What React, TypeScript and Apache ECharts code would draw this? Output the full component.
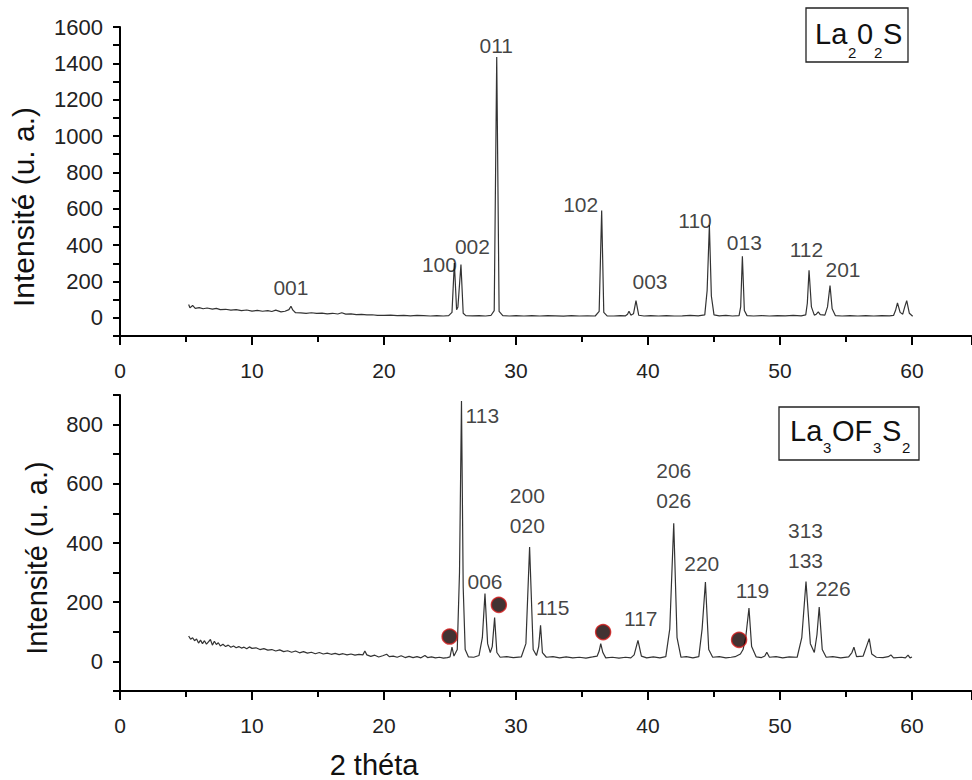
import React, { useEffect, useRef } from "react";
import * as echarts from "echarts";

// ---- La2O2S pattern: [2θ, intensity]
const topPattern: number[][] = [
  [5.2, 73], [5.3, 55], [5.5, 68], [5.7, 52], [6.0, 56], [6.3, 50], [6.6, 54], [7.0, 48], [7.3, 52], [7.6, 45],
  [8.0, 47], [8.4, 42], [8.8, 45], [9.2, 40], [9.6, 43], [10.0, 37], [10.4, 41], [10.8, 36], [11.2, 40], [11.5, 35],
  [11.8, 42], [12.2, 33], [12.5, 36], [12.8, 45], [12.95, 64], [13.1, 42], [13.3, 28], [13.7, 27], [14.1, 25], [14.5, 28],
  [14.9, 24], [15.3, 26], [15.7, 22], [16.1, 25], [16.5, 21], [16.8, 28], [17.1, 20], [17.5, 22], [17.9, 18], [18.3, 19],
  [18.7, 16], [19.1, 17], [19.5, 14], [20.0, 13], [20.5, 15], [21.0, 12], [21.5, 13], [22.0, 11], [22.5, 13], [23.0, 12],
  [23.5, 10], [24.0, 12], [24.5, 10], [24.9, 12], [25.15, 30], [25.33, 302], [25.5, 45], [25.6, 60], [25.83, 293], [26.0, 25],
  [26.2, 12], [26.7, 11], [27.2, 12], [27.7, 10], [28.1, 13], [28.35, 40], [28.54, 1435], [28.72, 35], [29.0, 12], [29.5, 10],
  [30.0, 12], [30.6, 10], [31.2, 12], [31.8, 10], [32.4, 12], [33.0, 11], [33.6, 9], [34.2, 12], [34.8, 10], [35.4, 11],
  [36.0, 10], [36.3, 35], [36.49, 591], [36.65, 30], [36.9, 11], [37.4, 10], [37.9, 12], [38.3, 11], [38.45, 20], [38.56, 36],
  [38.7, 15], [38.9, 22], [39.09, 95], [39.3, 14], [39.7, 10], [40.2, 12], [40.8, 10], [41.4, 12], [42.0, 10], [42.6, 11],
  [43.2, 13], [43.8, 11], [44.3, 16], [44.48, 150], [44.65, 510], [44.8, 120], [45.0, 16], [45.4, 11], [45.9, 13], [46.4, 10],
  [46.9, 12], [47.02, 60], [47.15, 339], [47.3, 40], [47.5, 12], [48.0, 10], [48.6, 12], [49.2, 10], [49.8, 12], [50.4, 11],
  [51.0, 13], [51.6, 11], [51.95, 16], [52.07, 80], [52.2, 262], [52.38, 60], [52.6, 15], [52.75, 20], [52.9, 33], [53.05, 18],
  [53.4, 15], [53.6, 60], [53.79, 178], [53.95, 50], [54.2, 12], [54.7, 10], [55.3, 12], [55.9, 10], [56.5, 12], [57.1, 10],
  [57.7, 12], [58.3, 11], [58.6, 13], [58.75, 40], [58.9, 82], [59.1, 30], [59.3, 20], [59.45, 60], [59.6, 95], [59.8, 25],
  [60.05, 9],
];

// ---- La3OF3S2 pattern: [2θ, intensity]
const bottomPattern: number[][] = [
  [5.2, 86], [5.35, 75], [5.5, 80], [5.65, 70], [5.8, 76], [5.95, 62], [6.1, 72], [6.25, 60], [6.4, 70], [6.55, 58],
  [6.7, 66], [6.85, 74], [7.0, 55], [7.15, 68], [7.3, 57], [7.45, 63], [7.6, 52], [7.8, 58], [8.0, 50], [8.2, 55],
  [8.4, 48], [8.6, 52], [8.8, 46], [9.0, 50], [9.2, 45], [9.4, 48], [9.6, 43], [9.8, 49], [10.0, 44], [10.3, 46],
  [10.6, 40], [10.9, 43], [11.2, 38], [11.5, 40], [11.8, 35], [12.1, 39], [12.4, 33], [12.7, 36], [13.0, 31], [13.3, 35],
  [13.6, 29], [13.9, 33], [14.2, 28], [14.5, 31], [14.8, 26], [15.1, 30], [15.4, 25], [15.7, 28], [16.0, 24], [16.3, 27],
  [16.6, 23], [16.9, 26], [17.2, 22], [17.5, 25], [17.8, 21], [18.1, 24], [18.4, 22], [18.55, 35], [18.7, 22], [19.0, 17],
  [19.3, 21], [19.6, 15], [19.9, 19], [20.2, 24], [20.4, 16], [20.7, 18], [21.0, 14], [21.3, 19], [21.6, 13], [21.9, 17],
  [22.2, 13], [22.5, 16], [22.8, 12], [23.1, 20], [23.3, 13], [23.6, 15], [23.9, 12], [24.2, 14], [24.5, 11], [24.8, 13],
  [25.0, 15], [25.15, 48], [25.3, 18], [25.55, 40], [25.72, 300], [25.87, 880], [26.0, 250], [26.15, 40], [26.4, 15], [26.8, 14],
  [27.2, 20], [27.45, 80], [27.65, 229], [27.85, 60], [28.05, 30], [28.2, 50], [28.38, 148], [28.55, 30], [28.8, 14], [29.3, 16],
  [29.8, 13], [30.4, 15], [30.75, 60], [31.03, 386], [31.3, 40], [31.55, 20], [31.72, 50], [31.86, 122], [32.0, 30], [32.3, 14],
  [32.8, 16], [33.3, 12], [33.8, 15], [34.3, 12], [34.8, 14], [35.3, 11], [35.8, 15], [36.15, 18], [36.3, 35], [36.42, 60],
  [36.58, 30], [36.8, 12], [37.3, 14], [37.8, 11], [38.3, 14], [38.7, 12], [38.95, 22], [39.24, 71], [39.5, 18], [39.9, 12],
  [40.4, 15], [40.9, 12], [41.35, 16], [41.65, 110], [41.95, 467], [42.2, 80], [42.5, 14], [42.9, 16], [43.4, 12], [43.85, 16],
  [44.1, 110], [44.35, 268], [44.6, 40], [44.9, 14], [45.4, 16], [45.9, 12], [46.3, 14], [46.6, 16], [47.0, 25], [47.2, 40],
  [47.4, 80], [47.65, 180], [47.85, 50], [48.2, 15], [48.6, 13], [48.85, 18], [49.0, 31], [49.2, 14], [49.7, 16], [50.2, 12],
  [50.7, 15], [51.3, 14], [51.65, 80], [51.97, 270], [52.3, 60], [52.6, 30], [52.8, 90], [52.97, 184], [53.2, 40], [53.5, 14],
  [54.0, 16], [54.6, 12], [55.2, 15], [55.45, 30], [55.6, 48], [55.8, 16], [56.3, 18], [56.55, 50], [56.76, 77], [56.95, 25],
  [57.3, 14], [57.8, 13], [58.2, 16], [58.4, 22], [58.6, 12], [59.2, 14], [59.5, 12], [59.7, 21], [59.85, 12], [60.0, 15],
];

// ---- Miller index labels: [2θ, intensity at label centre, text]
const topLabels: [number, number, string][] = [
  [12.95, 167, "001"], [24.2, 296, "100"], [26.7, 392, "002"], [28.5, 1497, "011"], [34.9, 626, "102"],
  [40.15, 201, "003"], [43.56, 538, "110"], [47.3, 414, "013"], [52.0, 375, "112"], [54.77, 268, "201"],
];
const bottomLabels: [number, number, string][] = [
  [27.45, 832, "113"], [27.65, 269, "006"], [30.86, 561, "200"], [30.86, 460, "020"], [32.78, 182, "115"],
  [39.45, 145, "117"], [41.95, 645, "206"], [41.95, 544, "026"], [44.07, 330, "220"], [47.92, 240, "119"],
  [51.93, 443, "313"], [51.93, 341, "133"], [54.03, 246, "226"],
];
// ---- impurity markers (bottom panel)
const impurityDots: number[][] = [[24.97, 84], [28.7, 191], [36.6, 99], [46.9, 73]];

const topYLabels = [0, 200, 400, 600, 800, 1000, 1200, 1400, 1600];
const bottomYLabels = [0, 200, 400, 600, 800];
const xLabels = [0, 10, 20, 30, 40, 50, 60];

const FONT = "Liberation Sans, Arial, sans-serif";

export default function App() {
  const ref = useRef<HTMLDivElement>(null);
  useEffect(() => {
    if (!ref.current) return;
    const chart = echarts.init(ref.current, null, { renderer: "svg" });
    const axisLine = { show: true, onZero: false, lineStyle: { color: "#000", width: 2 } };
    const xAxis = (gi: number) => ({
      type: "value",
      gridIndex: gi,
      min: 0,
      max: 64.5,
      interval: 10,
      axisLine,
      axisTick: { show: true, inside: false, length: 9, lineStyle: { color: "#000", width: 2 } },
      minorTick: { show: true, splitNumber: 2, length: 6, lineStyle: { color: "#000", width: 2 } },
      splitLine: { show: false },
      axisLabel: {
        fontSize: 21,
        color: "#222",
        fontFamily: FONT,
        margin: 24,
        showMaxLabel: false,
        formatter: (v: number) => (xLabels.includes(v) ? String(v) : ""),
      },
    });
    const yAxis = (gi: number, max: number, labels: number[]) => ({
      type: "value",
      gridIndex: gi,
      min: -100,
      max,
      interval: 100,
      axisLine,
      axisTick: { show: true, inside: false, length: 7, lineStyle: { color: "#000", width: 2 } },
      splitLine: { show: false },
      axisLabel: {
        fontSize: 22,
        color: "#222",
        fontFamily: FONT,
        margin: 17,
        formatter: (v: number) => (labels.includes(v) ? String(v) : ""),
      },
    });
    const labelSeries = (gi: number, items: [number, number, string][]) => ({
      type: "scatter",
      xAxisIndex: gi,
      yAxisIndex: gi,
      symbolSize: 1,
      itemStyle: { color: "transparent" },
      data: items.map((d) => ({ value: [d[0], d[1]], name: d[2] })),
      label: {
        show: true,
        position: "inside",
        formatter: (p: any) => p.name,
        fontSize: 21,
        color: "#111",
        fontFamily: FONT,
      },
      z: 5,
    });
    const T = (text: string, x: number, y: number, fs: number) => ({
      type: "text",
      x,
      y,
      z: 20,
      style: { text, fontSize: fs, fontFamily: FONT, fill: "#111", align: "left", verticalAlign: "middle" },
    });
    chart.setOption({
      animation: false,
      backgroundColor: "#fff",
      grid: [
        { left: 120, top: 27, width: 851.4, height: 309 },
        { left: 120, top: 395, width: 851.4, height: 296 },
      ],
      xAxis: [xAxis(0), xAxis(1)],
      yAxis: [yAxis(0, 1600, topYLabels), yAxis(1, 900, bottomYLabels)],
      series: [
        {
          type: "line",
          xAxisIndex: 0,
          yAxisIndex: 0,
          data: topPattern,
          showSymbol: false,
          lineStyle: { color: "#333", width: 1.2 },
        },
        {
          type: "line",
          xAxisIndex: 1,
          yAxisIndex: 1,
          data: bottomPattern,
          showSymbol: false,
          lineStyle: { color: "#333", width: 1.2 },
        },
        labelSeries(0, topLabels),
        labelSeries(1, bottomLabels),
        {
          type: "scatter",
          xAxisIndex: 1,
          yAxisIndex: 1,
          symbol: "circle",
          symbolSize: 15,
          data: impurityDots,
          itemStyle: { color: "#140000", borderColor: "#d01818", borderWidth: 1.5 },
          z: 6,
        },
      ],
      graphic: [
        {
          type: "rect",
          shape: { x: 806, y: 8, width: 102, height: 54 },
          style: { fill: "#fff", stroke: "#222", lineWidth: 1.3 },
          z: 10,
        },
        T("La", 815, 34, 29),
        T("2", 848, 52, 15),
        T("0", 857, 34, 29),
        T("2", 874, 52, 15),
        T("S", 883, 34, 29),
        {
          type: "rect",
          shape: { x: 779, y: 407, width: 140, height: 53 },
          style: { fill: "#fff", stroke: "#222", lineWidth: 1.3 },
          z: 10,
        },
        T("La", 790, 431, 29),
        T("3", 823, 447, 15),
        T("OF", 832, 431, 29),
        T("3", 873, 447, 15),
        T("S", 882, 431, 29),
        T("2", 902, 447, 15),
        {
          type: "text",
          x: 23,
          y: 207,
          rotation: Math.PI / 2,
          z: 20,
          style: { text: "Intensité (u. a.)", fontSize: 30, fontFamily: FONT, fill: "#111", align: "center", verticalAlign: "middle" },
        },
        {
          type: "text",
          x: 37,
          y: 558,
          rotation: Math.PI / 2,
          z: 20,
          style: { text: "Intensité (u. a.)", fontSize: 29, fontFamily: FONT, fill: "#111", align: "center", verticalAlign: "middle" },
        },
        {
          type: "text",
          x: 374,
          y: 765,
          z: 20,
          style: { text: "2 théta", fontSize: 29, fontFamily: FONT, fill: "#111", align: "center", verticalAlign: "middle" },
        },
      ],
    });
    return () => chart.dispose();
  }, []);
  return <div ref={ref} style={{ position: "absolute", left: 0, top: 0, width: 972, height: 780 }} />;
}
